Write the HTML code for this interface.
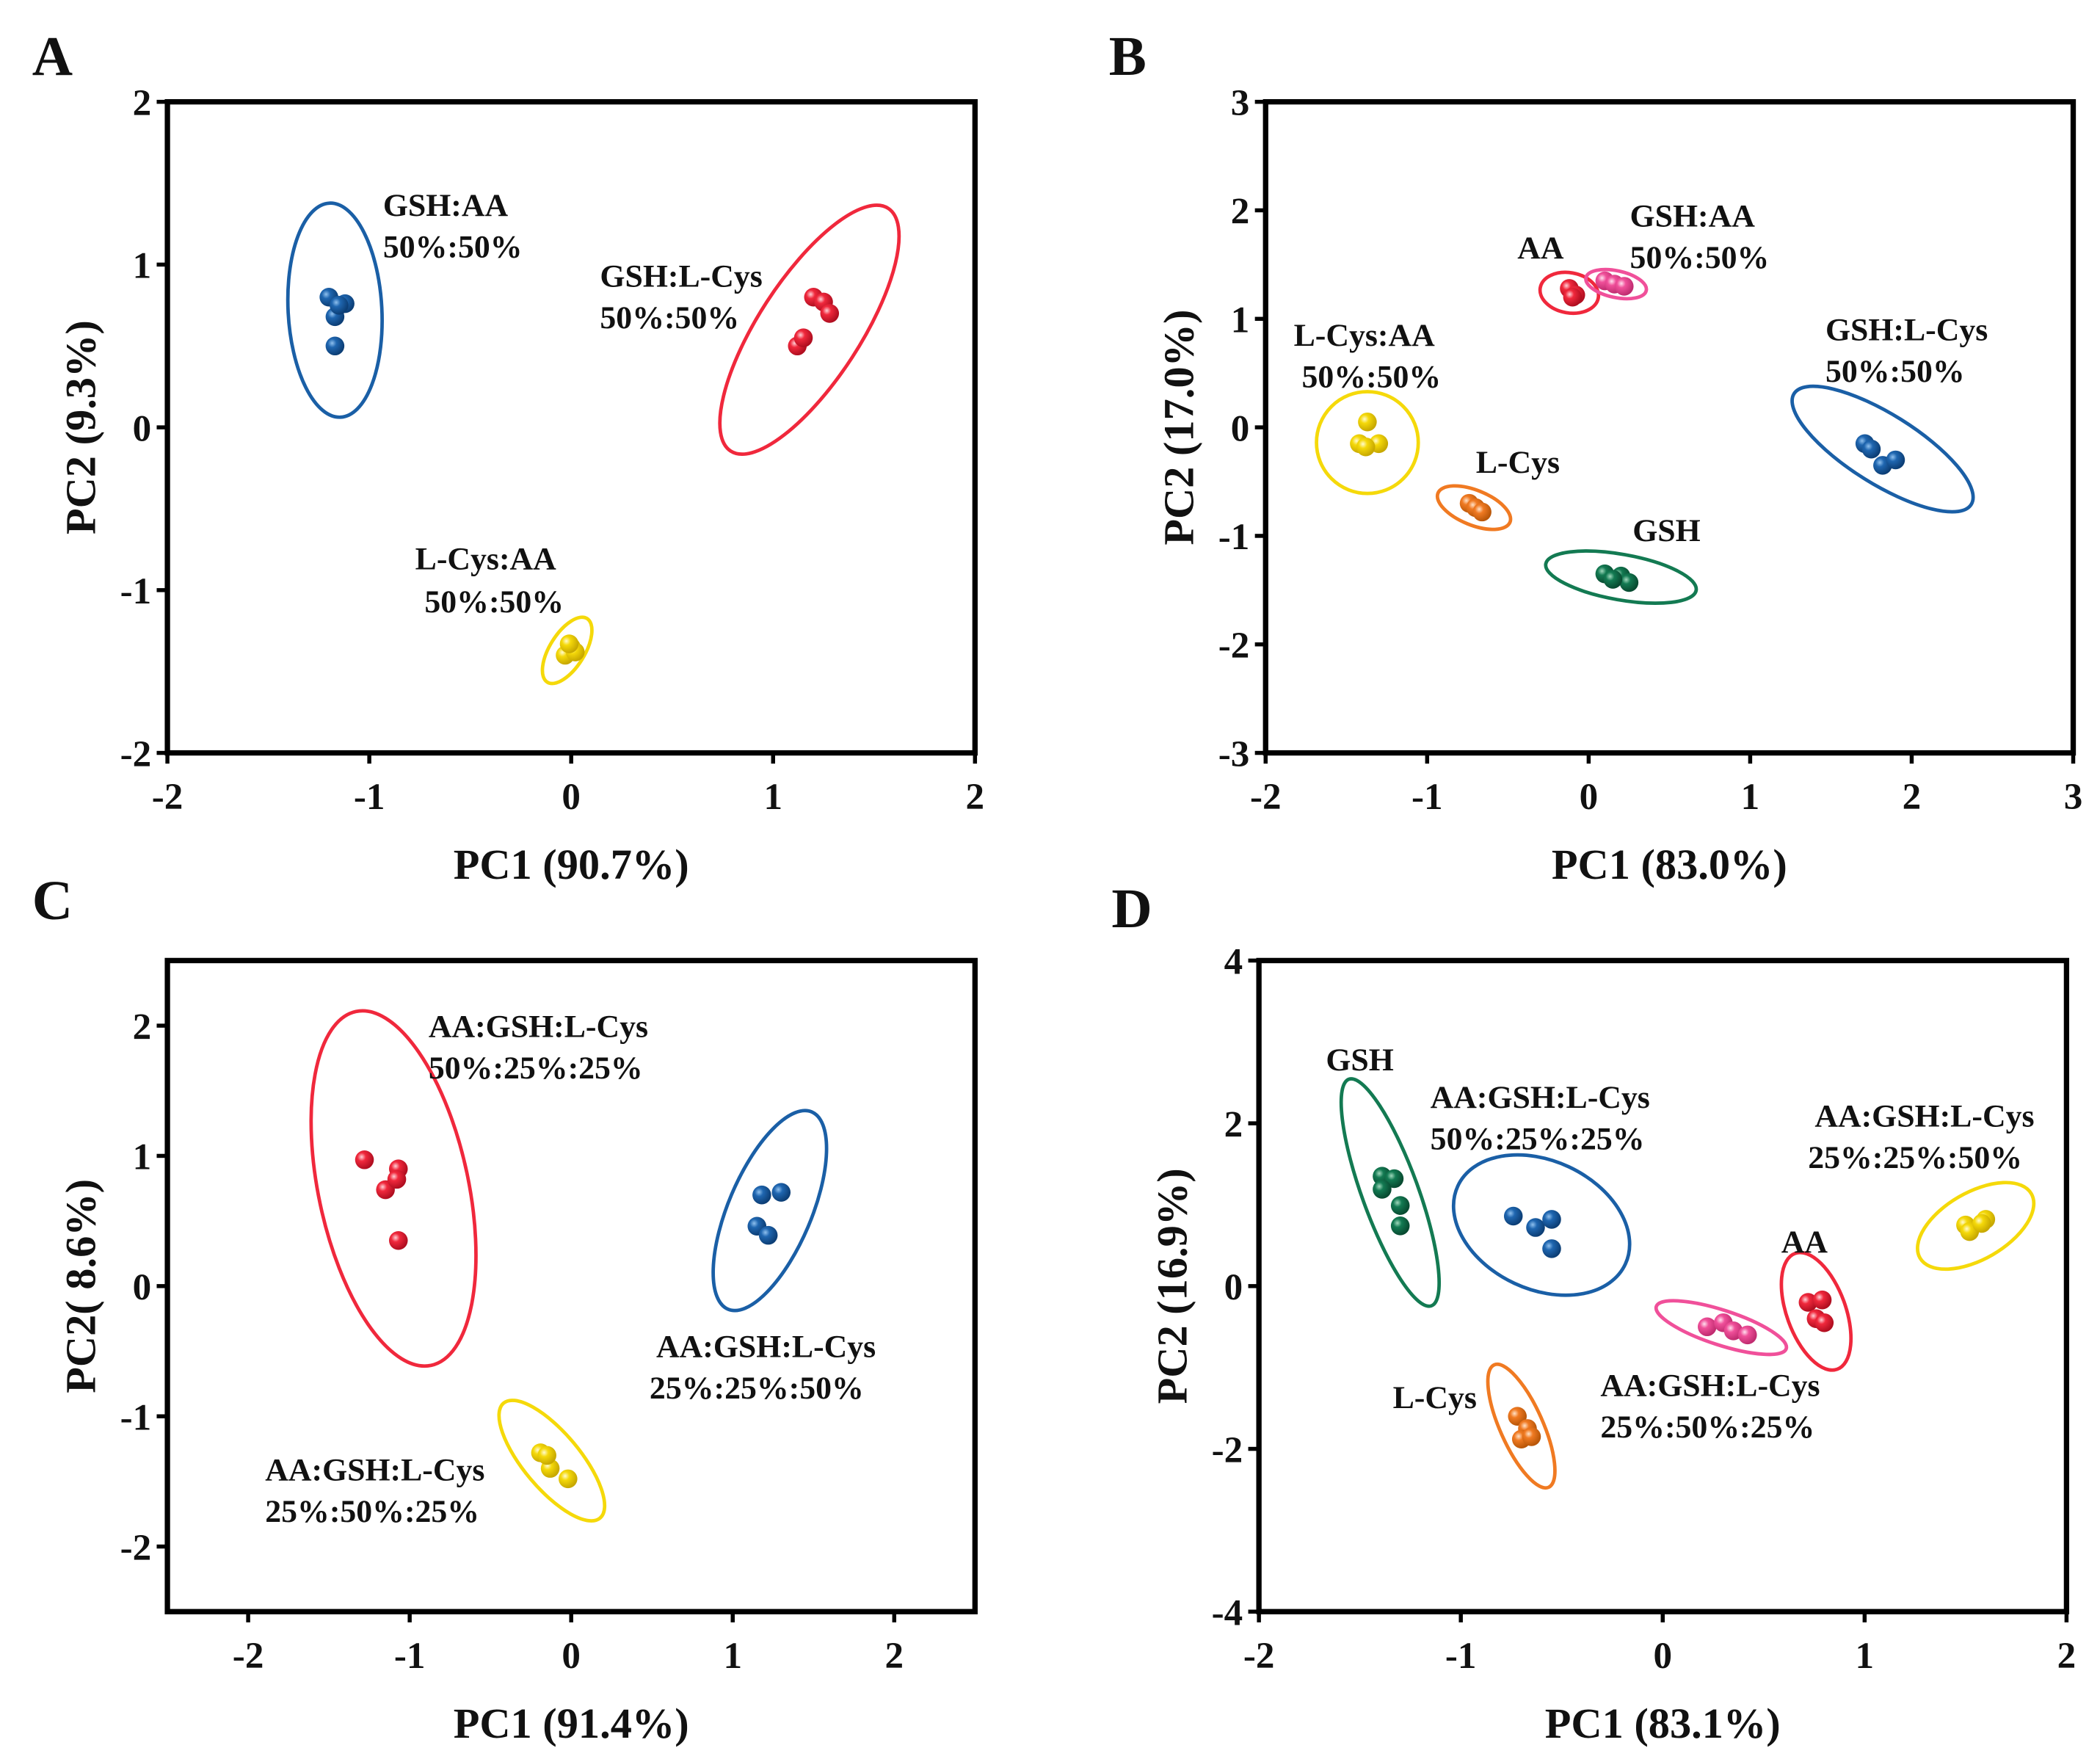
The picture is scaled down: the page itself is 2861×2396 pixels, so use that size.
<!DOCTYPE html>
<html><head><meta charset="utf-8">
<style>
html,body{margin:0;padding:0;background:#fff;}
svg{display:block;}
text{font-family:"Liberation Serif",serif;font-weight:bold;fill:#111;}
</style></head>
<body>
<svg id="fig" width="2861" height="2396" viewBox="0 0 1568 1313" preserveAspectRatio="none" xmlns="http://www.w3.org/2000/svg">
<defs>
<radialGradient id="g-blue" cx="35%" cy="35%" r="65%"><stop offset="0" stop-color="#8fc0ee"/><stop offset="0.35" stop-color="#1f66b0"/><stop offset="1" stop-color="#0c3e75"/></radialGradient>
<radialGradient id="g-red" cx="35%" cy="35%" r="65%"><stop offset="0" stop-color="#ffd0d6"/><stop offset="0.35" stop-color="#f0283c"/><stop offset="1" stop-color="#b00e20"/></radialGradient>
<radialGradient id="g-yellow" cx="35%" cy="35%" r="65%"><stop offset="0" stop-color="#fffbd0"/><stop offset="0.35" stop-color="#f5d90a"/><stop offset="1" stop-color="#c7a800"/></radialGradient>
<radialGradient id="g-pink" cx="35%" cy="35%" r="65%"><stop offset="0" stop-color="#ffe0ee"/><stop offset="0.35" stop-color="#f0509a"/><stop offset="1" stop-color="#c02c70"/></radialGradient>
<radialGradient id="g-orange" cx="35%" cy="35%" r="65%"><stop offset="0" stop-color="#ffe2c8"/><stop offset="0.35" stop-color="#f07a22"/><stop offset="1" stop-color="#b85608"/></radialGradient>
<radialGradient id="g-green" cx="35%" cy="35%" r="65%"><stop offset="0" stop-color="#a0d8bc"/><stop offset="0.35" stop-color="#137a52"/><stop offset="1" stop-color="#084a30"/></radialGradient>
</defs>
</svg>
<script>
// ---------- data ----------
const xTicksA = [-2,-1,0,1,2];
const yTicksA = [-2,-1,0,1,2];
const xTicksB = [-2,-1,0,1,2,3];
const yTicksB = [-3,-2,-1,0,1,2,3];
const xTicksC = [-2,-1,0,1,2];
const yTicksC = [-2,-1,0,1,2];
const xTicksD = [-2,-1,0,1,2];
const yTicksD = [-4,-2,0,2,4];

// Panel A
const aBlueX = [-1.2,-1.12,-1.17,-1.17,-1.15];
const aBlueY = [0.8,0.76,0.68,0.5,0.75];
const aRedX = [1.2,1.25,1.28,1.12,1.15];
const aRedY = [0.8,0.77,0.7,0.5,0.55];
const aYellowX = [0,-0.03,0.02,-0.01];
const aYellowY = [-1.35,-1.4,-1.38,-1.33];
// Panel B
const bRedX = [-0.12,-0.08,-0.1];
const bRedY = [1.28,1.22,1.2];
const bPinkX = [0.1,0.16,0.22];
const bPinkY = [1.35,1.32,1.3];
const bYellowX = [-1.37,-1.42,-1.3,-1.38];
const bYellowY = [0.05,-0.15,-0.15,-0.18];
const bOrangeX = [-0.74,-0.7,-0.66];
const bOrangeY = [-0.7,-0.74,-0.78];
const bGreenX = [0.1,0.2,0.25,0.15];
const bGreenY = [-1.35,-1.37,-1.43,-1.4];
const bBlueX = [1.71,1.82,1.9,1.75];
const bBlueY = [-0.15,-0.35,-0.3,-0.2];
// Panel C
const cRedX = [-1.28,-1.07,-1.15,-1.07,-1.08];
const cRedY = [0.97,0.9,0.74,0.35,0.82];
const cBlueX = [1.18,1.3,1.15,1.22];
const cBlueY = [0.7,0.72,0.46,0.39];
const cYellowX = [-0.19,-0.13,-0.02,-0.15];
const cYellowY = [-1.28,-1.4,-1.48,-1.3];
// Panel D
const dGreenX = [-1.39,-1.33,-1.39,-1.3,-1.3];
const dGreenY = [1.35,1.32,1.19,0.99,0.74];
const dBlueX = [-0.74,-0.63,-0.55,-0.55];
const dBlueY = [0.86,0.72,0.82,0.46];
const dPinkX = [0.22,0.3,0.35,0.42];
const dPinkY = [-0.5,-0.45,-0.55,-0.6];
const dRedX = [0.72,0.79,0.76,0.8];
const dRedY = [-0.2,-0.17,-0.4,-0.45];
const dOrangeX = [-0.72,-0.67,-0.7,-0.65];
const dOrangeY = [-1.6,-1.75,-1.88,-1.85];
const dYellowX = [1.5,1.6,1.52,1.58];
const dYellowY = [0.75,0.82,0.67,0.77];

// ellipse centers (data units)
const aEllCX = [-1.17,1.18,-0.02];
const aEllCY = [0.72,0.6,-1.37];
const bEllCX = [-0.12,0.17,-1.37,-0.71,0.2,1.82];
const bEllCY = [1.24,1.32,-0.14,-0.74,-1.38,-0.2];
const cEllCX = [-1.1,1.23,-0.12];
const cEllCY = [0.75,0.58,-1.34];
const dEllCX = [-1.35,-0.6,0.29,0.76,-0.7,1.55];
const dEllCY = [1.15,0.75,-0.51,-0.31,-1.72,0.74];

// ---------- drawing ----------
const NS = "http://www.w3.org/2000/svg";
const svg = document.getElementById('fig');
const COL = {blue:'#1a5fa6',red:'#f0283c',yellow:'#f5d90a',pink:'#f0509a',orange:'#f07a22',green:'#137a52'};

function mk(tag, attrs, parent){
  const e = document.createElementNS(NS, tag);
  for (const k in attrs) e.setAttribute(k, attrs[k]);
  (parent||svg).appendChild(e);
  return e;
}
function txt(s, x, y, size, parent, anchor){
  const t = mk('text', {x:x, y:y, 'font-size':size, 'text-anchor':anchor||'start'}, parent);
  t.textContent = s;
  return t;
}

function panel(cfg){
  const g = mk('g', {});
  
  
  const sx = v => cfg.x0 + (v - cfg.xmin) / (cfg.xmax - cfg.xmin) * (cfg.x1 - cfg.x0);
  const sy = v => cfg.y1 - (v - cfg.ymin) / (cfg.ymax - cfg.ymin) * (cfg.y1 - cfg.y0);
  cfg.sx = sx; cfg.sy = sy; cfg.g = g;
  const frame = mk('rect', {x:cfg.x0, y:cfg.y0, width:cfg.x1-cfg.x0, height:cfg.y1-cfg.y0, fill:'none', stroke:'#000', 'stroke-width':4}, g);
  
  
  cfg.xt.forEach(v => {
    const X = sx(v);
    mk('line', {x1:X, y1:cfg.y1, x2:X, y2:cfg.y1+8, stroke:'#000', 'stroke-width':3}, g);
    const t = txt(String(v), X, cfg.y1+42, 28, g, 'middle');
    
    
  });
  cfg.yt.forEach(v => {
    const Y = sy(v);
    mk('line', {x1:cfg.x0-8, y1:Y, x2:cfg.x0, y2:Y, stroke:'#000', 'stroke-width':3}, g);
    const t = txt(String(v), cfg.x0-12, Y+10, 28, g, 'end');
    
    
  });
  const xt = txt(cfg.xlabel, (cfg.x0+cfg.x1)/2, cfg.y1+94, 32, g, 'middle');
  
  
  const yc = (cfg.y0+cfg.y1)/2, yx = cfg.x0-54;
  const yt = mk('text', {x:yx, y:yc, 'font-size':32, 'text-anchor':'middle', transform:`rotate(-90 ${yx} ${yc})`}, g);
  yt.textContent = cfg.ylabel;
  
  
  const pl = txt(cfg.letter, cfg.lx, cfg.ly, 42, g);
  
  
  return cfg;
}
function ellipse(p, cx, cy, rx, ry, ang, color, name){
  const X = p.sx(cx), Y = p.sy(cy);
  const e = mk('ellipse', {cx:X, cy:Y, rx:rx, ry:ry, transform:`rotate(${ang} ${X} ${Y})`, fill:'none', stroke:COL[color], 'stroke-width':2.6}, p.g);
  
  
}
function points(p, xs, ys, color, name){
  xs.forEach((v,i) => {
    const c = mk('circle', {cx:p.sx(v), cy:p.sy(ys[i]), r:7, fill:`url(#g-${color})`}, p.g);
    
    
  });
}
function label(p, lines, x, y){
  lines.forEach((s,i) => {
    const t = txt(s, x, y + i*31, 24, p.g);
    
    
  });
}

// Panel A
const A = panel({name:'panel-a', letter:'A', lx:24, ly:56, x0:125, x1:728, y0:76, y1:562, xmin:-2, xmax:2, ymin:-2, ymax:2, xt:xTicksA, yt:yTicksA, xlabel:'PC1 (90.7%)', ylabel:'PC2 (9.3%)'});
ellipse(A, aEllCX[0], aEllCY[0], 35, 80, -3, 'blue', 'ellipse-gsh-aa');
ellipse(A, aEllCX[1], aEllCY[1], 108, 38, -57, 'red', 'ellipse-gsh-lcys');
ellipse(A, aEllCX[2], aEllCY[2], 28, 13, -58, 'yellow', 'ellipse-lcys-aa');
points(A, aBlueX, aBlueY, 'blue', 'point-gsh-aa');
points(A, aRedX, aRedY, 'red', 'point-gsh-lcys');
points(A, aYellowX, aYellowY, 'yellow', 'point-lcys-aa');
label(A, ['GSH:AA','50%:50%'], 286, 161);
label(A, ['GSH:L-Cys','50%:50%'], 448, 214);
label(A, ['L-Cys:AA'], 310, 425);
label(A, ['50%:50%'], 317, 457);

// Panel B
const B = panel({name:'panel-b', letter:'B', lx:828, ly:56, x0:945, x1:1548, y0:76, y1:562, xmin:-2, xmax:3, ymin:-3, ymax:3, xt:xTicksB, yt:yTicksB, xlabel:'PC1 (83.0%)', ylabel:'PC2 (17.0%)'});
ellipse(B, bEllCX[0], bEllCY[0], 22, 15, 10, 'red', 'ellipse-aa');
ellipse(B, bEllCX[1], bEllCY[1], 23, 10, 12, 'pink', 'ellipse-gsh-aa');
ellipse(B, bEllCX[2], bEllCY[2], 38, 38, 0, 'yellow', 'ellipse-lcys-aa');
ellipse(B, bEllCX[3], bEllCY[3], 29, 13, 22, 'orange', 'ellipse-lcys');
ellipse(B, bEllCX[4], bEllCY[4], 57, 17, 10, 'green', 'ellipse-gsh');
ellipse(B, bEllCX[5], bEllCY[5], 78, 26, 32, 'blue', 'ellipse-gsh-lcys');
points(B, bRedX, bRedY, 'red', 'point-aa');
points(B, bPinkX, bPinkY, 'pink', 'point-gsh-aa');
points(B, bYellowX, bYellowY, 'yellow', 'point-lcys-aa');
points(B, bOrangeX, bOrangeY, 'orange', 'point-lcys');
points(B, bGreenX, bGreenY, 'green', 'point-gsh');
points(B, bBlueX, bBlueY, 'blue', 'point-gsh-lcys');
label(B, ['AA'], 1133, 193);
label(B, ['GSH:AA','50%:50%'], 1217, 169);
label(B, ['L-Cys:AA'], 966, 258);
label(B, ['50%:50%'], 972, 289);
label(B, ['L-Cys'], 1102, 353);
label(B, ['GSH'], 1219, 404);
label(B, ['GSH:L-Cys','50%:50%'], 1363, 254);

// Panel C
const C = panel({name:'panel-c', letter:'C', lx:24, ly:686, x0:125, x1:728, y0:717, y1:1203, xmin:-2.5, xmax:2.5, ymin:-2.5, ymax:2.5, xt:xTicksC, yt:yTicksC, xlabel:'PC1 (91.4%)', ylabel:'PC2( 8.6%)'});
ellipse(C, cEllCX[0], cEllCY[0], 135, 56, 78, 'red', 'ellipse-50-25-25');
ellipse(C, cEllCX[1], cEllCY[1], 80, 31, -67, 'blue', 'ellipse-25-25-50');
ellipse(C, cEllCX[2], cEllCY[2], 56, 21, 50, 'yellow', 'ellipse-25-50-25');
points(C, cRedX, cRedY, 'red', 'point-50-25-25');
points(C, cBlueX, cBlueY, 'blue', 'point-25-25-50');
points(C, cYellowX, cYellowY, 'yellow', 'point-25-50-25');
label(C, ['AA:GSH:L-Cys','50%:25%:25%'], 320, 774);
label(C, ['AA:GSH:L-Cys'], 490, 1013);
label(C, ['25%:25%:50%'], 485, 1044);
label(C, ['AA:GSH:L-Cys','25%:50%:25%'], 198, 1105);

// Panel D
const D = panel({name:'panel-d', letter:'D', lx:830, ly:692, x0:940, x1:1543, y0:717, y1:1203, xmin:-2, xmax:2, ymin:-4, ymax:4, xt:xTicksD, yt:yTicksD, xlabel:'PC1 (83.1%)', ylabel:'PC2 (16.9%)'});
ellipse(D, dEllCX[0], dEllCY[0], 90, 21, 70, 'green', 'ellipse-gsh');
ellipse(D, dEllCX[1], dEllCY[1], 69, 48, 25, 'blue', 'ellipse-50-25-25');
ellipse(D, dEllCX[2], dEllCY[2], 51, 13, 18, 'pink', 'ellipse-25-50-25');
ellipse(D, dEllCX[3], dEllCY[3], 46, 22, 70, 'red', 'ellipse-aa');
ellipse(D, dEllCX[4], dEllCY[4], 50, 16, 66, 'orange', 'ellipse-lcys');
ellipse(D, dEllCX[5], dEllCY[5], 48, 25, -30, 'yellow', 'ellipse-25-25-50');
points(D, dGreenX, dGreenY, 'green', 'point-gsh');
points(D, dBlueX, dBlueY, 'blue', 'point-50-25-25');
points(D, dPinkX, dPinkY, 'pink', 'point-25-50-25');
points(D, dRedX, dRedY, 'red', 'point-aa');
points(D, dOrangeX, dOrangeY, 'orange', 'point-lcys');
points(D, dYellowX, dYellowY, 'yellow', 'point-25-25-50');
label(D, ['GSH'], 990, 799);
label(D, ['AA:GSH:L-Cys','50%:25%:25%'], 1068, 827);
label(D, ['AA:GSH:L-Cys'], 1355, 841);
label(D, ['25%:25%:50%'], 1350, 872);
label(D, ['AA'], 1330, 935);
label(D, ['L-Cys'], 1040, 1051);
label(D, ['AA:GSH:L-Cys','25%:50%:25%'], 1195, 1042);
</script>
</body></html>
